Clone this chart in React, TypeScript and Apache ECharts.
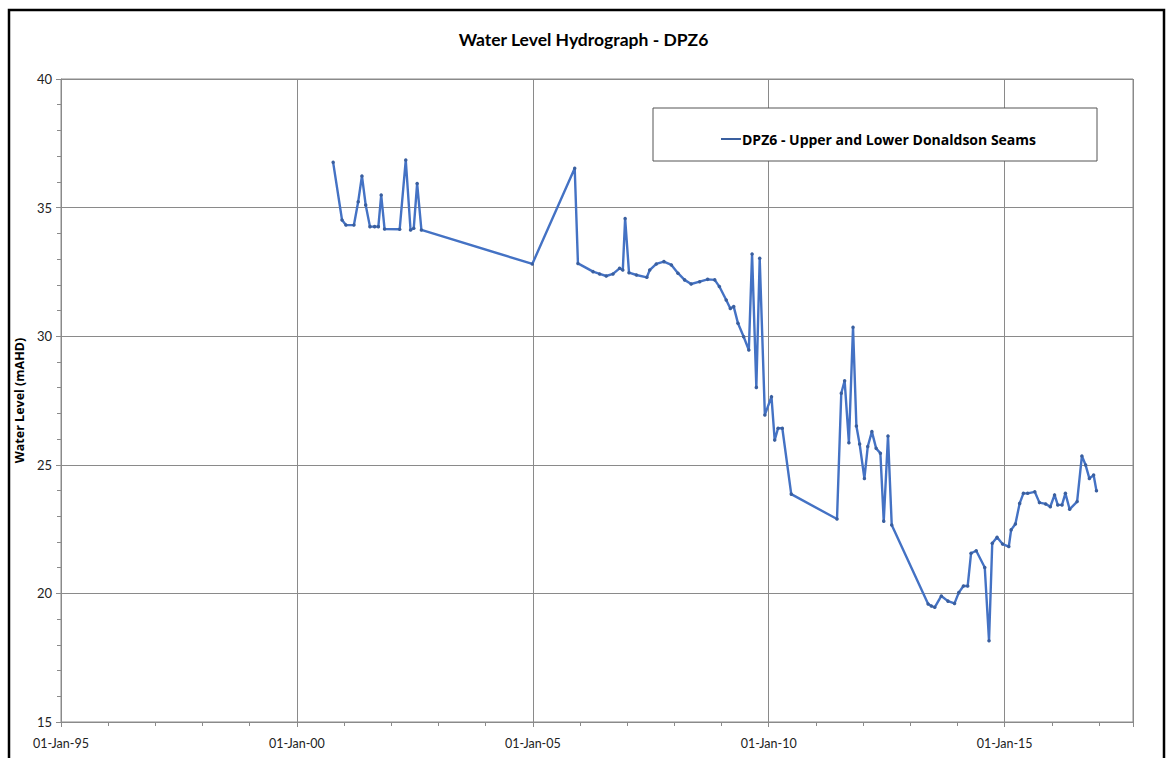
import React, { useEffect, useRef } from "react";
import * as echarts from "echarts";

const titleText = "Water Level Hydrograph - DPZ6";
const seriesName = "DPZ6 - Upper and Lower Donaldson Seams";
const yAxisName = "Water Level (mAHD)";

const sampleDates = [
  "2000-10-08", "2000-12-16", "2001-01-15", "2001-03-18", "2001-04-20", "2001-05-19",
  "2001-06-17", "2001-07-20", "2001-08-25", "2001-09-23", "2001-10-15", "2001-11-10",
  "2002-03-07", "2002-04-23", "2002-05-30", "2002-06-24", "2002-07-20", "2002-08-22",
  "2004-12-28", "2005-11-21", "2005-12-16", "2006-04-12", "2006-06-02", "2006-07-23",
  "2006-09-13", "2006-11-03", "2006-11-28", "2006-12-16", "2007-01-15", "2007-03-14",
  "2007-06-02", "2007-06-24", "2007-08-14", "2007-10-12", "2007-12-09", "2008-01-29",
  "2008-03-20", "2008-05-10", "2008-07-15", "2008-09-15", "2008-11-09", "2008-12-15",
  "2009-02-06", "2009-03-10", "2009-04-05", "2009-05-08", "2009-06-21", "2009-07-31",
  "2009-08-25", "2009-09-27", "2009-10-23", "2009-12-02", "2010-01-22", "2010-02-16",
  "2010-03-14", "2010-04-16", "2010-06-24", "2011-06-13", "2011-07-16", "2011-08-11",
  "2011-09-13", "2011-10-15", "2011-11-10", "2011-12-05", "2012-01-11", "2012-02-06",
  "2012-03-09", "2012-04-11", "2012-05-14", "2012-06-09", "2012-07-12", "2012-08-10",
  "2013-05-19", "2013-06-13", "2013-07-09", "2013-08-29", "2013-10-19", "2013-12-09",
  "2014-01-11", "2014-02-16", "2014-03-21", "2014-04-16", "2014-05-26", "2014-07-31",
  "2014-09-02", "2014-09-27", "2014-11-03", "2014-12-16", "2015-02-02", "2015-02-20",
  "2015-03-25", "2015-04-27", "2015-05-26", "2015-06-28", "2015-08-22", "2015-09-27",
  "2015-11-14", "2015-12-20", "2016-01-22", "2016-02-16", "2016-03-20", "2016-04-15",
  "2016-05-18", "2016-07-15", "2016-08-21", "2016-09-19", "2016-10-18", "2016-11-20",
  "2016-12-12",
];

const waterLevels = [
  36.76, 34.52, 34.32, 34.32, 35.23, 36.23,
  35.1, 34.26, 34.26, 34.26, 35.49, 34.17,
  34.16, 36.85, 34.13, 34.2, 35.94, 34.13,
  32.81, 36.53, 32.83, 32.51, 32.42, 32.34,
  32.42, 32.64, 32.57, 34.58, 32.47, 32.38,
  32.29, 32.57, 32.81, 32.9, 32.77, 32.45,
  32.19, 32.03, 32.12, 32.21, 32.19, 31.93,
  31.41, 31.08, 31.15, 30.5, 29.98, 29.46,
  33.2, 28.01, 33.03, 26.94, 27.65, 25.96,
  26.42, 26.42, 23.86, 22.89, 27.78, 28.27,
  25.86, 30.35, 26.51, 25.81, 24.47, 25.71,
  26.29, 25.64, 25.45, 22.81, 26.12, 22.66,
  19.59, 19.51, 19.46, 19.9, 19.7, 19.61,
  20.03, 20.29, 20.29, 21.56, 21.66, 21.01,
  18.16, 21.95, 22.18, 21.92, 21.82, 22.47,
  22.7, 23.5, 23.89, 23.89, 23.95, 23.53,
  23.48, 23.37, 23.83, 23.44, 23.44, 23.89,
  23.27, 23.57, 25.34, 24.99, 24.47, 24.6,
  23.99,
];

const xMinYear = 1995;
const xMaxYear = 2017.72;
const xStepYears = 5;
const yMin = 15;
const yMax = 40;
const yStep = 5;

function toYear(s: string): number {
  const [y, m, d] = s.split("-").map(Number);
  const start = Date.UTC(y, 0, 1);
  const end = Date.UTC(y + 1, 0, 1);
  return y + (Date.UTC(y, m - 1, d) - start) / (end - start);
}

function yearLabel(v: number): string {
  if (Math.abs(v - Math.round(v)) > 1e-6 || Math.round(v) % 5 !== 0) return "";
  const yy = String(Math.round(v) % 100).padStart(2, "0");
  return "01-Jan-" + yy;
}

const FONT = "Lato, 'Open Sans', sans-serif";
const WIDE_FONT = "'Open Sans', Lato, sans-serif";
const GRID_COLOR = "#8a8a8a";
const LINE_COLOR = "#4472c4";

export default function App() {
  const ref = useRef<HTMLDivElement>(null);

  useEffect(() => {
    if (!ref.current) return;
    const chart = echarts.init(ref.current, undefined, { renderer: "svg" });
    const data = sampleDates.map((d, i) => [toYear(d), waterLevels[i]]);

    chart.setOption({
      animation: false,
      backgroundColor: "#ffffff",
      textStyle: { fontFamily: FONT },
      title: {
        text: titleText,
        left: "center",
        top: 25,
        textStyle: { fontFamily: FONT, fontSize: 17.5, fontWeight: "bold", color: "#000" },
      },
      graphic: [
        {
          type: "rect",
          shape: { x: 9, y: 10, width: 1155, height: 800 },
          style: { fill: "none", stroke: "#000", lineWidth: 2.5 },
          silent: true,
        },
        {
          type: "rect",
          shape: { x: 653, y: 108, width: 444, height: 53 },
          style: { fill: "#fff", stroke: "#555", lineWidth: 1 },
          silent: true,
          z: 10,
        },
      ],
      legend: {
        left: 716,
        top: 127,
        z: 20,
        itemWidth: 20,
        itemHeight: 14,
        itemGap: 4,
        textStyle: { fontFamily: WIDE_FONT, fontSize: 14, fontWeight: "bold", color: "#000", padding: [0, 0, 0, -4] },
        data: [{ name: seriesName, icon: "path://M0,6 L20,6 L20,8 L0,8 Z" }],
      },
      grid: {
        left: 61,
        right: 34,
        top: 79,
        bottom: 36,
        show: true,
        borderColor: GRID_COLOR,
        borderWidth: 1,
        backgroundColor: "transparent",
      },
      xAxis: {
        type: "value",
        min: xMinYear,
        max: xMaxYear,
        interval: xStepYears,
        axisLine: { show: true, lineStyle: { color: GRID_COLOR } },
        axisTick: { show: true, length: 5, lineStyle: { color: GRID_COLOR } },
        minorTick: { show: true, splitNumber: 5, length: 4, lineStyle: { color: GRID_COLOR } },
        splitLine: { show: true, lineStyle: { color: GRID_COLOR, width: 1 } },
        axisLabel: {
          formatter: yearLabel,
          showMaxLabel: false,
          margin: 15,
          fontFamily: FONT,
          fontSize: 12.5,
          color: "#222",
        },
      },
      yAxis: {
        type: "value",
        min: yMin,
        max: yMax,
        interval: yStep,
        name: yAxisName,
        nameLocation: "middle",
        nameGap: 29,
        nameTextStyle: { fontFamily: WIDE_FONT, fontSize: 12.5, fontWeight: "bold", color: "#000" },
        axisLine: { show: true, lineStyle: { color: GRID_COLOR } },
        axisTick: { show: true, length: 5, lineStyle: { color: GRID_COLOR } },
        minorTick: { show: true, splitNumber: 5, length: 4, lineStyle: { color: GRID_COLOR } },
        splitLine: { show: true, lineStyle: { color: GRID_COLOR, width: 1 } },
        axisLabel: { margin: 9, fontFamily: FONT, fontSize: 13, color: "#222" },
      },
      series: [
        {
          name: seriesName,
          type: "line",
          data,
          symbol: "circle",
          symbolSize: 3.5,
          showSymbol: true,
          lineStyle: { color: LINE_COLOR, width: 2.4 },
          itemStyle: { color: "#3a5f9f" },
          z: 5,
        },
      ],
    });

    return () => chart.dispose();
  }, []);

  return (
    <div
      ref={ref}
      style={{ position: "absolute", left: 0, top: 0, width: 1167, height: 758 }}
    />
  );
}
